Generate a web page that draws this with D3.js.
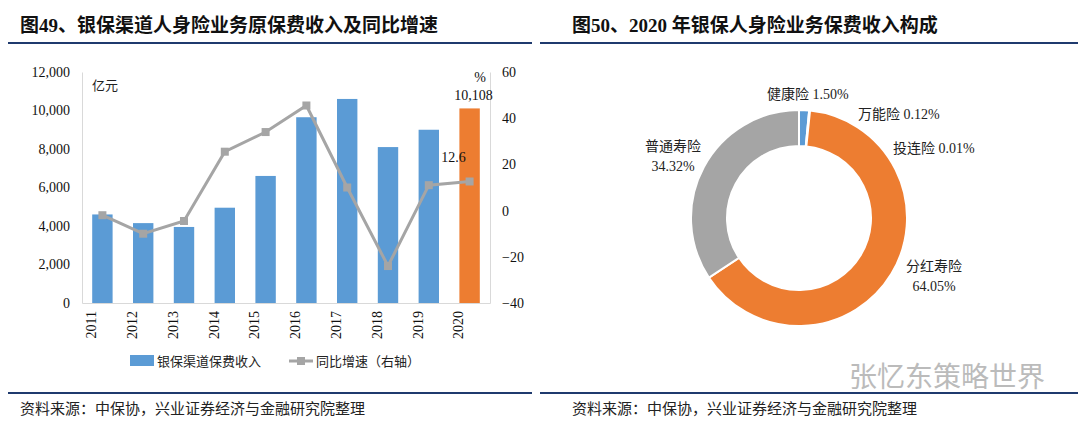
<!DOCTYPE html><html><head><meta charset="utf-8"><script src="https://cdn.jsdelivr.net/npm/d3@7"></script>
<style>body{margin:0;background:#fff}text{font-family:"Liberation Serif","Noto Sans CJK SC",serif}</style></head><body>
<svg id="c" width="1080" height="423"></svg>
<script>
const years=["2011","2012","2013","2014","2015","2016","2017","2018","2019","2020"];
const premium=[4600,4150,3950,4950,6600,9650,10600,8100,9000,10108];
const growth=[-2,-10,-4.5,25.5,34,45.5,10,-24,11,12.6];
const leftTicks=[0,2000,4000,6000,8000,10000,12000];
const rightTicks=[-40,-20,0,20,40,60];
const pieNames=["健康险","万能险","投连险","分红寿险","普通寿险"];
const pieVals=[1.50,0.12,0.01,64.05,34.32];
const pieColors=["#5b9bd5","#ed7d31","#ed7d31","#ed7d31","#a5a5a5"];

const svg=d3.select("#c");
const navy="#1f3a6e", cjk='"Noto Sans CJK SC",sans-serif';
// titles & rules
[[20,"图49、银保渠道人身险业务原保费收入及同比增速",8,532],[572,"图50、2020 年银保人身险业务保费收入构成",540,1078]].forEach(([x,t,a,b])=>{
  svg.append("text").attr("x",x).attr("y",32).attr("font-size",19).attr("font-weight","bold").attr("fill","#111").style("font-family",'"Liberation Serif","Noto Sans CJK SC",serif').text(t);
  svg.append("line").attr("x1",a).attr("x2",b).attr("y1",43).attr("y2",43).attr("stroke",navy).attr("stroke-width",2);
  svg.append("line").attr("x1",a).attr("x2",b).attr("y1",393).attr("y2",393).attr("stroke",navy).attr("stroke-width",2);
  svg.append("text").attr("x",x).attr("y",414).attr("font-size",15).attr("fill","#222").style("font-family",cjk).text("资料来源：中保协，兴业证券经济与金融研究院整理");
});
// left chart
const x=d3.scaleBand().domain(years).range([82,490]).paddingInner(0.5).paddingOuter(0.25);
const y=d3.scaleLinear().domain([0,12000]).range([303,72]);
const y2=d3.scaleLinear().domain([-40,60]).range([303,72]);
const gL=svg.append("g").attr("transform","translate(82,0)").call(d3.axisLeft(y).tickValues(leftTicks).tickFormat(d3.format(",")).tickSize(0).tickPadding(12));
const gR=svg.append("g").attr("transform","translate(490,0)").call(d3.axisRight(y2).tickValues(rightTicks).tickSize(0).tickPadding(12));
const gB=svg.append("g").attr("transform","translate(0,303)").call(d3.axisBottom(x).tickSize(0).tickPadding(8));
[gL,gR,gB].forEach(g=>{g.select(".domain").attr("stroke","#d9d9d9");g.selectAll("text").attr("font-size",14).attr("fill","#111").style("font-family","Liberation Serif")});
gB.selectAll("text").attr("transform","rotate(-90)").attr("text-anchor","end").attr("dx","-8").attr("dy","-0.45em").attr("y",0).attr("x",0);
svg.selectAll(".bar").data(premium).join("rect").attr("x",(d,i)=>x(years[i])).attr("width",x.bandwidth()).attr("y",d=>y(d)).attr("height",d=>303-y(d)).attr("fill",(d,i)=>i==9?"#ed7d31":"#5b9bd5");
const cx=d=>x(d)+x.bandwidth()/2;
svg.append("path").datum(growth).attr("d",d3.line().x((d,i)=>cx(years[i])).y(d=>y2(d))).attr("fill","none").attr("stroke","#a5a5a5").attr("stroke-width",3);
svg.selectAll(".m").data(growth).join("rect").attr("x",(d,i)=>cx(years[i])-4).attr("y",d=>y2(d)-4).attr("width",8).attr("height",8).attr("fill","#a5a5a5");
svg.append("text").attr("x",92).attr("y",90).attr("font-size",13).style("font-family",cjk).attr("fill","#222").text("亿元");
svg.append("text").attr("x",486).attr("y",82).attr("font-size",14).attr("text-anchor","end").attr("fill","#111").text("%");
svg.append("text").attr("x",cx("2020")+4).attr("y",y(premium[9])-8).attr("font-size",14).attr("text-anchor","middle").attr("fill","#111").text(d3.format(",")(premium[9]));
svg.append("text").attr("x",cx("2020")-16).attr("y",y2(growth[9])-19).attr("font-size",14).attr("text-anchor","middle").attr("fill","#111").text(growth[9]);
// legend
svg.append("rect").attr("x",130).attr("y",355).attr("width",24).attr("height",11).attr("fill","#5b9bd5");
svg.append("text").attr("x",157).attr("y",366).attr("font-size",13).style("font-family",cjk).attr("fill","#222").text("银保渠道保费收入");
svg.append("line").attr("x1",289).attr("x2",313).attr("y1",361).attr("y2",361).attr("stroke","#a5a5a5").attr("stroke-width",3);
svg.append("rect").attr("x",297).attr("y",357).attr("width",8).attr("height",8).attr("fill","#a5a5a5");
svg.append("text").attr("x",316).attr("y",366).attr("font-size",13).style("font-family",cjk).attr("fill","#222").text("同比增速（右轴）");
// donut
const pie=d3.pie().sort(null).value(d=>d)(pieVals);
const arc=d3.arc().innerRadius(72).outerRadius(108);
svg.append("g").attr("transform","translate(799,218)").selectAll("path").data(pie).join("path").attr("d",arc).attr("fill",(d,i)=>pieColors[i]).attr("stroke","#fff").attr("stroke-width",2);
const labs=[[767,99,"start",pieNames[0]+" "+pieVals[0].toFixed(2)+"%"],[858,119,"start",pieNames[1]+" "+pieVals[1].toFixed(2)+"%"],[893,153,"start",pieNames[2]+" "+pieVals[2].toFixed(2)+"%"]];
labs.forEach(([lx,ly,a,t])=>svg.append("text").attr("x",lx).attr("y",ly).attr("font-size",14).attr("fill","#222").text(t));
[[934,271,pieNames[3]],[934,291,pieVals[3].toFixed(2)+"%"],[673,151,pieNames[4]],[673,171,pieVals[4].toFixed(2)+"%"]].forEach(([lx,ly,t])=>svg.append("text").attr("x",lx).attr("y",ly).attr("font-size",14).attr("text-anchor","middle").attr("fill","#222").text(t));
svg.append("text").attr("x",1045).attr("y",387).attr("font-size",28).attr("text-anchor","end").attr("fill","#bbb").style("font-family",cjk).text("张忆东策略世界");
</script></body></html>
